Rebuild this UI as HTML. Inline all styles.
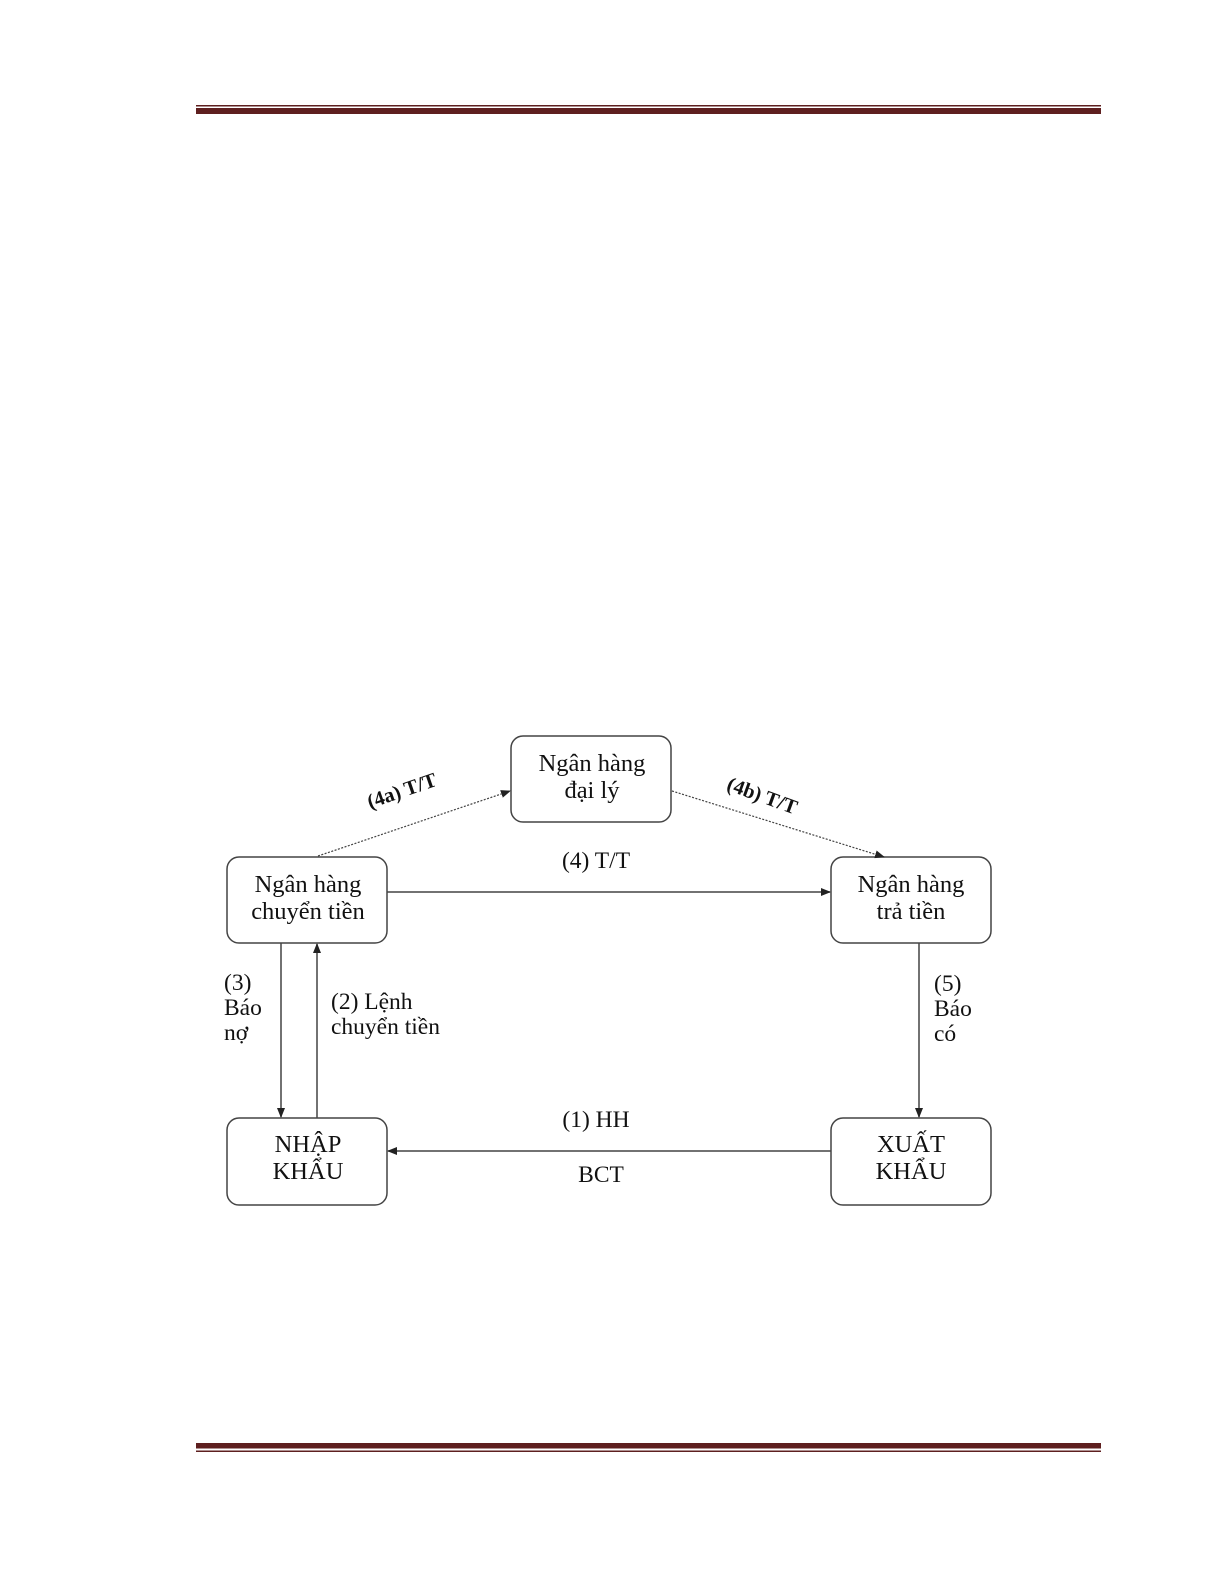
<!DOCTYPE html>
<html><head><meta charset="utf-8"><style>
html,body{margin:0;padding:0;background:#fff;}
body{width:1225px;height:1585px;position:relative;overflow:hidden;}
svg{position:absolute;left:0;top:0;}
text{font-family:"Liberation Serif",serif;fill:#111;}
</style></head><body>
<svg width="1225" height="1585" viewBox="0 0 1225 1585">
<defs>
<marker id="a" markerWidth="10" markerHeight="8" refX="9" refY="4" orient="auto" markerUnits="userSpaceOnUse">
<path d="M0,0 L10,4 L0,8 Z" fill="#222"/></marker>
</defs>
<rect x="196" y="105" width="905" height="1.5" fill="#5e1f1f"/>
<rect x="196" y="108" width="905" height="6" fill="#5e1f1f"/>
<rect x="196" y="1443" width="905" height="5.5" fill="#5e1f1f"/>
<rect x="196" y="1450.5" width="905" height="1.5" fill="#5e1f1f"/>

<g fill="#fff" stroke="#444" stroke-width="1.5">
<rect x="511" y="736" width="160" height="86" rx="12"/>
<rect x="227" y="857" width="160" height="86" rx="12"/>
<rect x="831" y="857" width="160" height="86" rx="12"/>
<rect x="227" y="1118" width="160" height="87" rx="12"/>
<rect x="831" y="1118" width="160" height="87" rx="12"/>
</g>
<g stroke="#444" stroke-width="1.5" fill="none">
<line x1="318" y1="856" x2="510" y2="791" stroke-dasharray="2,1.5" marker-end="url(#a)" stroke-width="1.2"/>
<line x1="672" y1="791" x2="884" y2="857" stroke-dasharray="2,1.5" marker-end="url(#a)" stroke-width="1.2"/>
<line x1="387" y1="892" x2="830" y2="892" marker-end="url(#a)"/>
<line x1="281" y1="943" x2="281" y2="1117" marker-end="url(#a)"/>
<line x1="317" y1="1118" x2="317" y2="944" marker-end="url(#a)"/>
<line x1="919" y1="943" x2="919" y2="1117" marker-end="url(#a)"/>
<line x1="831" y1="1151" x2="388" y2="1151" marker-end="url(#a)"/>
</g>
<g font-size="24.5" text-anchor="middle">
<text x="592" y="771">Ngân hàng</text><text x="592" y="798">đại lý</text>
<text x="308" y="892">Ngân hàng</text><text x="308" y="919">chuyển tiền</text>
<text x="911" y="892">Ngân hàng</text><text x="911" y="919">trả tiền</text>
<text x="308" y="1152">NHẬP</text><text x="308" y="1179">KHẨU</text>
<text x="911" y="1152">XUẤT</text><text x="911" y="1179">KHẨU</text>
</g>
<g font-size="23.5">
<text x="596" y="868" text-anchor="middle">(4) T/T</text>
<text x="596" y="1127" text-anchor="middle">(1) HH</text>
<text x="601" y="1182" text-anchor="middle">BCT</text>
<text x="224" y="990">(3)</text><text x="224" y="1015">Báo</text><text x="224" y="1040">nợ</text>
<text x="331" y="1009">(2) Lệnh</text><text x="331" y="1034">chuyển tiền</text>
<text x="934" y="991">(5)</text><text x="934" y="1016">Báo</text><text x="934" y="1041">có</text>
</g>
<g font-size="20.5" font-weight="bold" text-anchor="middle">
<text transform="translate(404,797) rotate(-19)">(4a) T/T</text>
<text transform="translate(760,802) rotate(20)">(4b) T/T</text>
</g>
</svg>
</body></html>
